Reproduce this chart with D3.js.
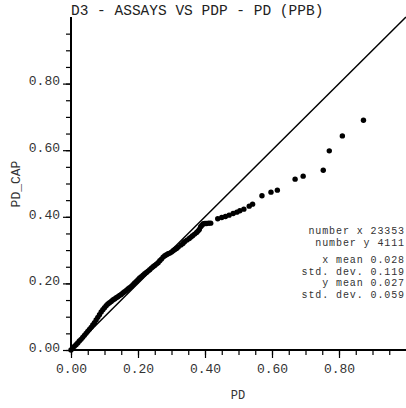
<!DOCTYPE html>
<html><head><meta charset="utf-8">
<script src="https://cdn.jsdelivr.net/npm/d3@7"></script>
<style>body{margin:0;background:#fff}svg{display:block}</style>
</head><body>
<script>
const title = "D3 - ASSAYS VS PDP - PD (PPB)";
const xLabel = "PD";
const yLabel = "PD_CAP";
const majorTicks = [0, 0.2, 0.4, 0.6, 0.8];
const tickLabels = ["0.00", "0.20", "0.40", "0.60", "0.80"];
const statLines = ["number x 23353", "number y 4111", "x mean 0.028", "std. dev. 0.119", "y mean 0.027", "std. dev. 0.059"];
// quantile pairs (x = PD quantile, y = PD_CAP quantile)
const qx = [0.000,0.005,0.010,0.015,0.020,0.025,0.030,0.035,0.040,0.045,0.050,0.055,0.060,0.065,0.070,0.075,0.080,0.085,0.090,0.095,0.100,0.105,0.110,0.115,0.120,0.125,0.130,0.135,0.140,0.145,0.150,0.155,0.160,0.165,0.170,0.175,0.180,0.185,0.190,0.195,0.200,0.205,0.210,0.215,0.220,0.225,0.230,0.235,0.240,0.245,0.250,0.255,0.260,0.265,0.270,0.275,0.280,0.285,0.290,0.295,0.300,0.305,0.310,0.315,0.320,0.328,0.334,0.339,0.346,0.353,0.358,0.363,0.369,0.375,0.379,0.383,0.387,0.391,0.395,0.400,0.405,0.411,0.417,0.438,0.450,0.461,0.472,0.484,0.495,0.504,0.516,0.532,0.542,0.570,0.597,0.616,0.669,0.693,0.753,0.771,0.810,0.873];
const qy = [0.000,0.005,0.011,0.016,0.021,0.027,0.032,0.038,0.044,0.050,0.056,0.062,0.068,0.075,0.082,0.090,0.098,0.106,0.114,0.121,0.127,0.133,0.138,0.142,0.146,0.150,0.153,0.157,0.160,0.164,0.167,0.171,0.175,0.179,0.183,0.187,0.191,0.196,0.201,0.206,0.211,0.216,0.220,0.225,0.229,0.233,0.237,0.241,0.246,0.250,0.254,0.258,0.262,0.268,0.273,0.279,0.283,0.286,0.289,0.291,0.294,0.298,0.302,0.305,0.309,0.315,0.320,0.325,0.330,0.335,0.339,0.343,0.348,0.353,0.357,0.362,0.370,0.375,0.379,0.380,0.380,0.381,0.381,0.394,0.398,0.401,0.405,0.410,0.414,0.418,0.423,0.432,0.438,0.463,0.474,0.480,0.513,0.522,0.540,0.598,0.643,0.690];

const W = 406, H = 408;
const font = "'Courier New', 'Liberation Mono', monospace";
const svg = d3.select("body").append("svg").attr("width", W).attr("height", H);
const x = d3.scaleLinear().domain([0, 1]).range([71, 406]);
const y = d3.scaleLinear().domain([0, 1]).range([350, 17]);
const minor = d3.range(0, 20).map(i => i * 0.05);

// diagonal
svg.append("line").attr("x1", x(0)).attr("y1", y(0)).attr("x2", x(1)).attr("y2", y(1))
  .attr("stroke", "#000").attr("stroke-width", 1.5);

// axes
const xAxis = d3.axisBottom(x).tickValues(minor).tickSize(5).tickFormat("");
const yAxis = d3.axisLeft(y).tickValues(minor).tickSize(5).tickFormat("");
const gx = svg.append("g").attr("transform", `translate(0,${y(0)})`).call(xAxis);
const gy = svg.append("g").attr("transform", `translate(${x(0)},0)`).call(yAxis);
[gx, gy].forEach(g => { g.select(".domain").attr("stroke", "#000").attr("stroke-width", 2); g.selectAll(".tick line").attr("stroke", "#000").attr("stroke-width", 1.2); });
gx.select(".domain").attr("d", `M${x(0)},0H${x(1)}`);
gy.select(".domain").attr("d", `M0,${y(0)}V${y(1)}`);
const xMaj = d3.axisBottom(x).tickValues(majorTicks).tickSize(8).tickFormat((d, i) => tickLabels[i]).tickPadding(6);
const yMaj = d3.axisLeft(y).tickValues(majorTicks).tickSize(8).tickFormat((d, i) => tickLabels[i]).tickPadding(3);
const gx2 = svg.append("g").attr("transform", `translate(0,${y(0)})`).call(xMaj);
const gy2 = svg.append("g").attr("transform", `translate(${x(0)},0)`).call(yMaj);
[gx2, gy2].forEach(g => { g.select(".domain").remove(); g.selectAll(".tick line").attr("stroke", "#000").attr("stroke-width", 1.2);
  g.selectAll("text").attr("font-family", font).attr("font-size", 13).attr("fill", "#333"); });
gy2.selectAll("text").attr("dy", "0.1em");

// points
svg.append("g").selectAll("circle").data(qx.map((v, i) => [v, qy[i]])).join("circle")
  .attr("cx", d => x(d[0])).attr("cy", d => y(d[1])).attr("r", 2.7).attr("fill", "#000");

// title
svg.append("text").attr("x", 71).attr("y", 15).attr("font-family", font).attr("font-size", 14.5).attr("fill", "#222").text(title);
// axis labels
svg.append("text").attr("x", 238).attr("y", 399).attr("text-anchor", "middle").attr("font-family", font).attr("font-size", 12).attr("fill", "#333").text(xLabel);
svg.append("text").attr("transform", `translate(20,184) rotate(-90)`).attr("text-anchor", "middle").attr("font-family", font).attr("font-size", 13).attr("fill", "#333").text(yLabel);
// stats
const statY = [234, 246, 263, 274.5, 286, 297.5];
svg.append("g").selectAll("text").data(statLines).join("text")
  .attr("x", 405).attr("y", (d, i) => statY[i]).attr("text-anchor", "end")
  .attr("font-family", font).attr("font-size", 10).attr("letter-spacing", "0.9px").attr("fill", "#333").text(d => d);
</script>
</body></html>
